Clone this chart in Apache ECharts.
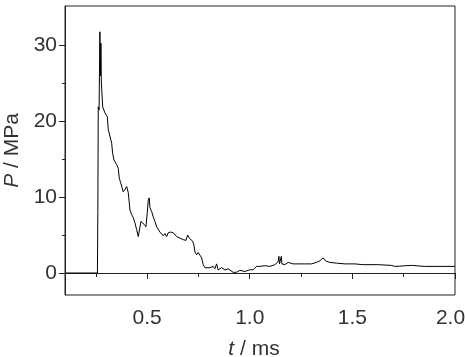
<!DOCTYPE html>
<html>
<head>
<meta charset="utf-8">
<script src="https://cdn.jsdelivr.net/npm/echarts@6/dist/echarts.min.js"></script>
<style>
html,body{margin:0;padding:0;background:#fff;}
#chart{width:465px;height:357px;}
</style>
</head>
<body>
<div id="chart"></div>
<script>
// time in ms
var times = [0.100, 0.258, 0.260, 0.262, 0.266, 0.270, 0.273, 0.275, 0.277, 0.2835, 0.2947, 0.306, 0.311,
  0.3274, 0.332, 0.3386, 0.3517, 0.3595, 0.3644, 0.3712, 0.3838, 0.3921, 0.4004, 0.4082, 0.4165, 0.4247,
  0.4325, 0.4408, 0.4491, 0.4569, 0.4651, 0.470, 0.4783, 0.4861, 0.4944, 0.5007, 0.5055, 0.5104, 0.5138,
  0.5221, 0.5299, 0.5382, 0.5464, 0.5625, 0.5708, 0.5786, 0.5869, 0.5951, 0.6029, 0.6146, 0.6273, 0.6438,
  0.6599, 0.6759, 0.6891, 0.6974, 0.7052, 0.7134, 0.7217, 0.7280, 0.7329, 0.7412, 0.7490, 0.7573, 0.7655,
  0.7733, 0.7816, 0.7899, 0.8059, 0.8220, 0.8303, 0.8386, 0.8463, 0.8629, 0.8790, 0.8950, 0.9033, 0.9194,
  0.9359, 0.9520, 0.9763, 1.0007, 1.0168, 1.0333, 1.0494, 1.0737, 1.0981, 1.1224, 1.1385, 1.142, 1.145,
  1.154, 1.1565, 1.1628, 1.1711, 1.1872, 1.2115, 1.2358, 1.2685, 1.3011, 1.3254, 1.3415, 1.3576, 1.3692,
  1.3902, 1.4228, 1.4632, 1.5119, 1.551, 1.6239, 1.6906, 1.7066, 1.731, 1.7553, 1.788, 1.8527, 2.0];
// pressure in MPa
var pressures = [0, 0, 8.1, 21.9, 21.5, 31.8, 26.0, 30.3, 25.2, 21.9, 21.1, 20.6, 18.9,
  17.1, 15.8, 14.9, 14.3, 13.8, 12.5, 11.9, 10.7, 11.0, 11.4, 10.6, 8.3, 7.7,
  7.3, 6.6, 5.7, 4.8, 5.0, 6.8, 7.0, 6.4, 6.1, 7.9, 9.6, 9.9, 8.6,
  8.1, 7.4, 6.8, 6.1, 5.4, 5.3, 4.9, 5.2, 4.8, 5.3, 5.4, 5.3, 4.8,
  4.6, 4.4, 4.3, 5.0, 4.6, 4.4, 4.2, 3.7, 2.8, 2.4, 2.7, 2.8, 2.0,
  1.1, 0.7, 0.74, 0.7, 0.87, 0.56, 1.2, 0.4, 0.7, 0.4, 0.56, 0.35, 0.08,
  0.1, 0.35, 0.2, 0.43, 0.43, 0.87, 0.87, 0.96, 0.87, 1.1, 1.5, 2.2, 1.2,
  2.2, 1.2, 1.3, 1.1, 1.4, 1.2, 1.2, 1.2, 1.2, 1.4, 1.6, 2.0, 1.6,
  1.4, 1.3, 1.2, 1.2, 1.1, 1.1, 1.0, 0.87, 0.9, 0.96, 1.0, 0.87, 0.87];

var xMajorTicks = [0.5, 1.0, 1.5, 2.0];
var xMinorTicks = [0.25, 0.75, 1.25, 1.75];
var yMajorTicks = [0, 10, 20, 30];
var yMinorTicks = [5, 15, 25];

var FONT = "'Liberation Sans', Arial, sans-serif";
var TXT = '#333';
var LINE = '#222';
var FS = 21;

var data = times.map(function (t, i) { return [t, pressures[i]]; });

var chart = echarts.init(document.getElementById('chart'), null, {renderer: 'canvas'});
chart.setOption({
  animation: false,
  backgroundColor: '#fff',
  grid: {left: 65, right: 10, top: 6, bottom: 62, containLabel: false, outerBoundsMode: 'none',
    show: true, borderColor: LINE, borderWidth: 1, backgroundColor: 'transparent'},
  xAxis: [{
    type: 'value', min: 0.1, max: 2.0,
    axisLine: {show: true, lineStyle: {color: LINE, width: 1}},
    axisTick: {show: true, inside: false, length: 6, customValues: xMajorTicks, lineStyle: {color: LINE}},
    axisLabel: {show: true, customValues: xMajorTicks, margin: 13, color: TXT, fontFamily: FONT, fontSize: FS,
      formatter: function (v) { return v >= 2 ? '{e|' + v.toFixed(1) + '}' : v.toFixed(1); },
      rich: {e: {fontFamily: FONT, fontSize: FS, color: TXT, padding: [0, 9, 0, 0]}}},
    splitLine: {show: false},
    name: '{i|t}{n| / ms}',
    nameLocation: 'middle', nameGap: 44,
    nameTextStyle: {padding: [0, 12, 0, 0], rich: {
      i: {fontStyle: 'italic', fontFamily: FONT, fontSize: FS, color: TXT},
      n: {fontFamily: FONT, fontSize: FS, color: TXT}
    }}
  }, {
    type: 'value', min: 0.1, max: 2.0, position: 'bottom', gridIndex: 0,
    axisLine: {show: false},
    axisTick: {show: true, length: 4, customValues: xMinorTicks, lineStyle: {color: LINE}},
    axisLabel: {show: false},
    splitLine: {show: false}
  }],
  yAxis: [{
    type: 'value', min: -2.9, max: 35.2,
    axisLine: {show: true, lineStyle: {color: LINE, width: 1}},
    axisTick: {show: true, inside: false, length: 6, customValues: yMajorTicks, lineStyle: {color: LINE}},
    axisLabel: {show: true, customValues: yMajorTicks, margin: 8, color: TXT, fontFamily: FONT, fontSize: FS},
    splitLine: {show: false},
    name: '{i|P}{n| / MPa}',
    nameLocation: 'middle', nameGap: 40, nameRotate: 90,
    nameTextStyle: {rich: {
      i: {fontStyle: 'italic', fontFamily: FONT, fontSize: FS, color: TXT},
      n: {fontFamily: FONT, fontSize: FS, color: TXT}
    }}
  }, {
    type: 'value', min: -2.9, max: 35.2, position: 'left', gridIndex: 0,
    axisLine: {show: false},
    axisTick: {show: true, length: 3, customValues: yMinorTicks, lineStyle: {color: LINE}},
    axisLabel: {show: false},
    splitLine: {show: false}
  }],
  series: [{
    type: 'line',
    data: data,
    xAxisIndex: 0, yAxisIndex: 0,
    showSymbol: false,
    symbol: 'none',
    lineStyle: {color: '#000', width: 1},
    silent: true
  }]
});
</script>
</body>
</html>
